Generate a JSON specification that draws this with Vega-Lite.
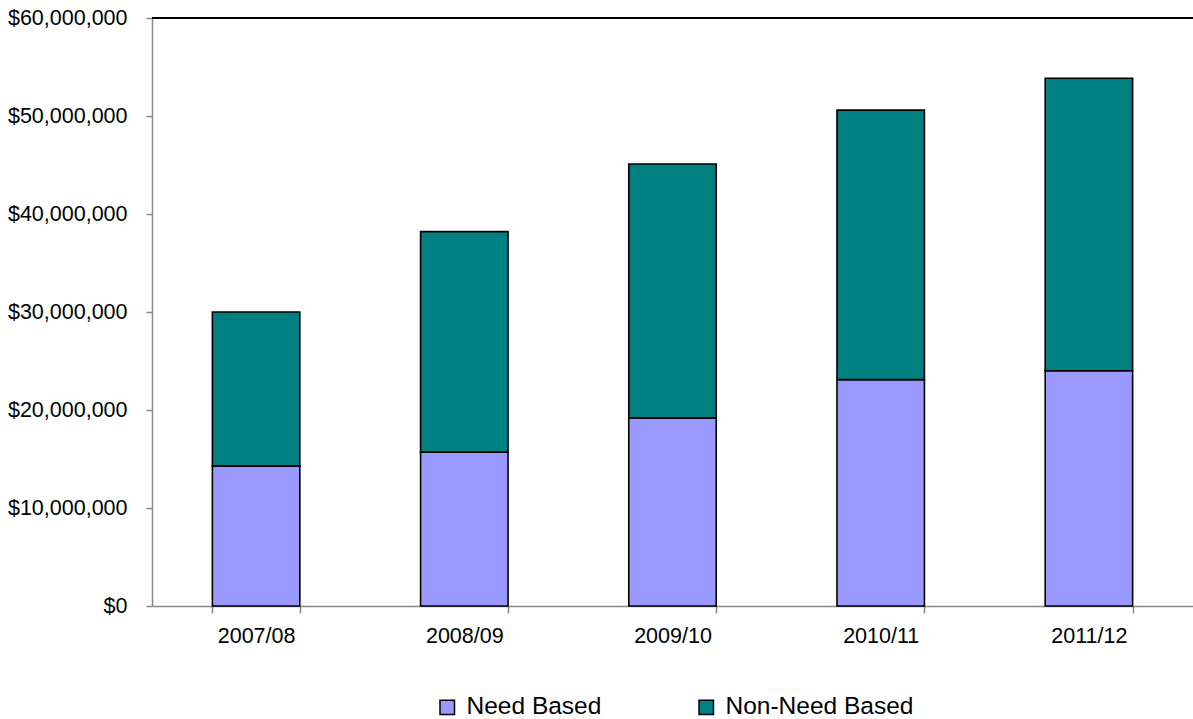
{
  "$schema": "https://vega.github.io/schema/vega-lite/v6.json",
  "width": 1041,
  "height": 588,
  "autosize": {"type": "none"},
  "padding": {"left": 152, "top": 18, "right": 0, "bottom": 113},
  "background": "white",
  "config": {
    "view": {"stroke": null},
    "font": "Liberation Sans",
    "axis": {"labelFont": "Liberation Sans", "labelColor": "black", "domainColor": "#888888", "tickColor": "#888888", "domainWidth": 1.5, "tickWidth": 1.5, "grid": false, "title": null}
  },
  "data": {
    "values": [
      {"year": "2007/08", "type": "Need Based", "amount": 14300000, "ord": 1},
      {"year": "2007/08", "type": "Non-Need Based", "amount": 15700000, "ord": 2},
      {"year": "2008/09", "type": "Need Based", "amount": 15700000, "ord": 1},
      {"year": "2008/09", "type": "Non-Need Based", "amount": 22500000, "ord": 2},
      {"year": "2009/10", "type": "Need Based", "amount": 19200000, "ord": 1},
      {"year": "2009/10", "type": "Non-Need Based", "amount": 25900000, "ord": 2},
      {"year": "2010/11", "type": "Need Based", "amount": 23100000, "ord": 1},
      {"year": "2010/11", "type": "Non-Need Based", "amount": 27500000, "ord": 2},
      {"year": "2011/12", "type": "Need Based", "amount": 24000000, "ord": 1},
      {"year": "2011/12", "type": "Non-Need Based", "amount": 29850000, "ord": 2}
    ]
  },
  "layer": [
    {
      "mark": {"type": "bar", "stroke": "black", "strokeWidth": 1.6},
      "encoding": {
        "x": {
          "field": "year", "type": "nominal",
          "scale": {"paddingInner": 0.58, "paddingOuter": 0.29},
          "axis": {"labelAngle": 0, "labelFontSize": 21.5, "tickSize": 7, "tickBand": "extent", "labelPadding": 12}
        },
        "y": {
          "field": "amount", "type": "quantitative", "aggregate": "sum", "stack": "zero",
          "scale": {"domain": [0, 60000000]},
          "axis": {"values": [0, 10000000, 20000000, 30000000, 40000000, 50000000, 60000000], "format": "$,.0f", "labelFontSize": 21.5, "tickSize": 6, "labelPadding": 19}
        },
        "color": {
          "field": "type", "type": "nominal",
          "scale": {"domain": ["Need Based", "Non-Need Based"], "range": ["#9999FF", "#008080"]},
          "legend": {
            "title": null, "orient": "none", "direction": "horizontal",
            "legendX": 283, "legendY": 677,
            "symbolType": "square", "symbolSize": 210, "symbolStrokeColor": "black", "symbolStrokeWidth": 1.5,
            "labelFontSize": 24.5, "labelFont": "Liberation Sans", "labelColor": "black", "labelLimit": 0,
            "columnPadding": 92, "labelOffset": 7, "padding": 0
          }
        },
        "order": {"field": "ord", "type": "quantitative"}
      }
    },
    {
      "mark": {"type": "rule", "color": "black", "strokeWidth": 1.5},
      "encoding": {"y": {"datum": 60000000}}
    }
  ]
}
